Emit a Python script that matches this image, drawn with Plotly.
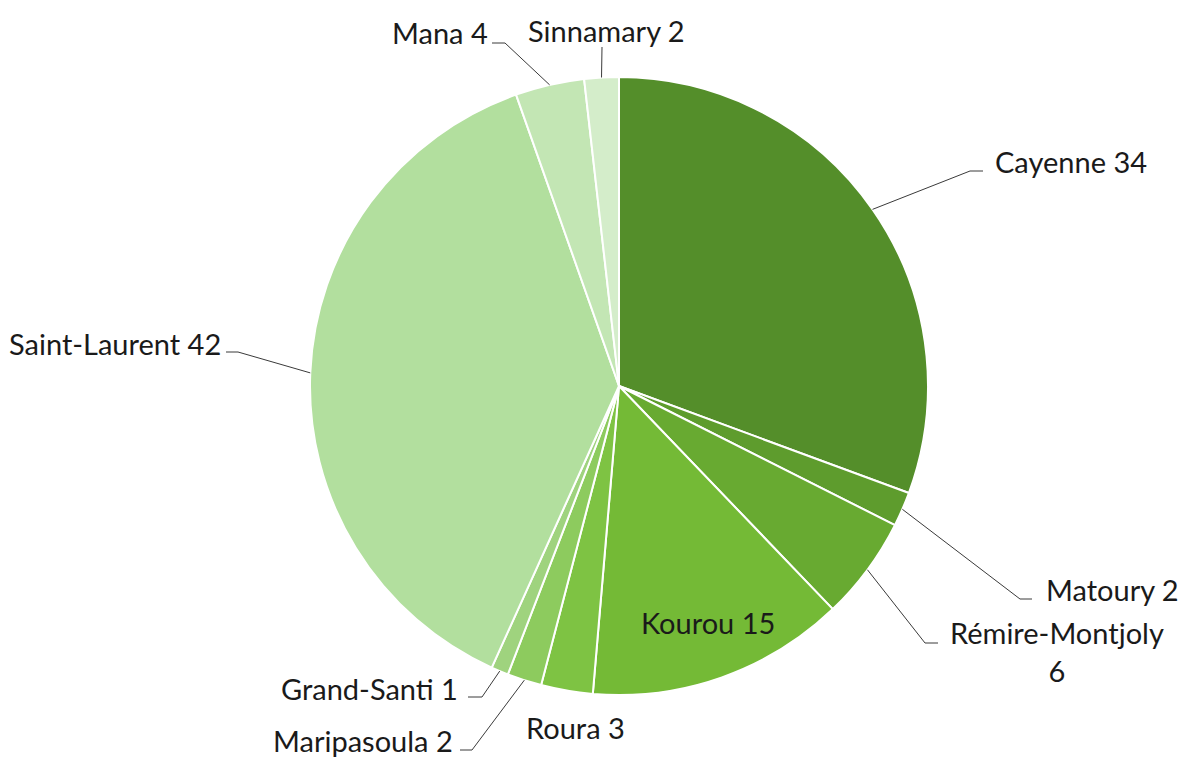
import math
import plotly.graph_objects as go

# ---- data ----
communes = ["Cayenne", "Matoury", "Rémire-Montjoly", "Kourou", "Roura",
            "Maripasoula", "Grand-Santi", "Saint-Laurent", "Mana", "Sinnamary"]
cases = [34, 2, 6, 15, 3, 2, 1, 42, 4, 2]
colors = ["#548E2A", "#5E9C2D", "#68AA31", "#74BA36", "#7EC343",
          "#8DCB5E", "#9FD37E", "#B2DF9E", "#C3E6B4", "#D4EDCA"]

# ---- layout ----
W, H = 1193, 765          # window size
OFF = 8                   # default page body margin
FW, FH = W - 2 * OFF, H - 2 * OFF
CX, CY, R = 619, 386, 309          # pie centre / radius in window pixels
FONT = "Lato"
FS = 29

# label placement per commune: (elbow point, end of horizontal, text x, text y, anchor)
label_layout = {
    "Cayenne":         dict(elbow=(970, 171), end=(983, 171), tx=993, ty=161, anchor="left"),
    "Matoury":         dict(elbow=(1020, 599), end=(1032, 599), tx=1044, ty=589, anchor="left"),
    "Rémire-Montjoly": dict(elbow=(925, 643), end=(938, 643), tx=1057, ty=651, anchor="center"),
    "Kourou":          dict(elbow=None, end=None, tx=708, ty=622, anchor="center"),
    "Roura":           dict(elbow=None, end=None, tx=575, ty=727, anchor="center"),
    "Maripasoula":     dict(elbow=(472, 750), end=(460, 750), tx=455, ty=740, anchor="right"),
    "Grand-Santi":     dict(elbow=(482, 697), end=(468, 697), tx=460, ty=688, anchor="right"),
    "Saint-Laurent":   dict(elbow=(238, 352), end=(226, 352), tx=223, ty=343, anchor="right"),
    "Mana":            dict(elbow=(505, 43), end=(492, 43), tx=490, ty=33, anchor="right"),
    "Sinnamary":       dict(elbow=(602, 47), end=(602, 47), tx=606, ty=30, anchor="center"),
}


def px(x):
    return (x - OFF) / FW


def py(y):
    return 1 - (y - OFF) / FH


fig = go.Figure(go.Pie(
    labels=communes,
    values=cases,
    sort=False,
    direction="clockwise",
    rotation=0,
    textinfo="none",
    hoverinfo="label+value",
    marker=dict(colors=colors, line=dict(color="white", width=2)),
    domain=dict(x=[px(CX - R), px(CX + R)], y=[py(CY + R), py(CY - R)]),
    showlegend=False,
))

total = sum(cases)
cum = 0
shapes = []
annotations = []
for name, v in zip(communes, cases):
    mid = (cum + v / 2) / total * 2 * math.pi
    cum += v
    lay = label_layout[name]
    ex = CX + R * math.sin(mid)
    ey = CY - R * math.cos(mid)
    if lay["elbow"] is not None:
        (bx, by), (fx, fy) = lay["elbow"], lay["end"]
        shapes.append(dict(type="path", xref="paper", yref="paper",
                           path=f"M {px(ex)},{py(ey)} L {px(bx)},{py(by)} L {px(fx)},{py(fy)}",
                           line=dict(color="#3a3a3a", width=1)))
    text = f"{name} {v}"
    if name == "Rémire-Montjoly":
        text = f"{name}<br>{v}"
    annotations.append(dict(x=px(lay["tx"]), y=py(lay["ty"]), xref="paper", yref="paper",
                            text=text, showarrow=False, xanchor=lay["anchor"],
                            yanchor="middle", align="center",
                            font=dict(family=FONT, size=FS, color="#1a1a1a")))

fig.update_layout(
    width=FW, height=FH,
    margin=dict(l=0, r=0, t=0, b=0),
    paper_bgcolor="white",
    plot_bgcolor="white",
    shapes=shapes,
    annotations=annotations,
)

fig.write_html("out.html")
